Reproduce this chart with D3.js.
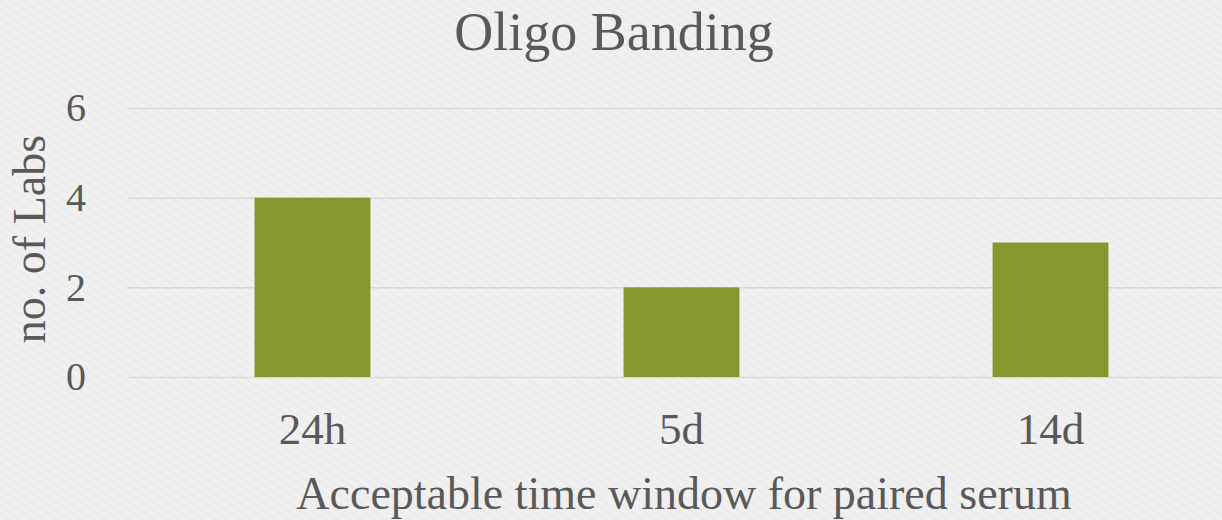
<!DOCTYPE html>
<html>
<head>
<meta charset="utf-8">
<script src="https://cdn.jsdelivr.net/npm/d3@7"></script>
<style>
  html, body { margin: 0; padding: 0; background: #efefef; }
  svg { display: block; }
</style>
</head>
<body>
<div id="chart"></div>
<script>
// chart data
const categories = ["24h", "5d", "14d"];
const labCounts = [4, 2, 3];
const yTicks = [0, 2, 4, 6];
const title = "Oligo Banding";
const xTitle = "Acceptable time window for paired serum";
const yTitle = "no. of Labs";

const svgWidth = 1222;
const svgHeight = 520;
const margin = {top: 108, right: -13, bottom: 143, left: 128};
const width = svgWidth - margin.left - margin.right;
const height = svgHeight - margin.top - margin.bottom;
const textColor = "#595959";
const fontFamily = "'Liberation Serif', 'Times New Roman', serif";

let root = d3.select("#chart")
  .append("svg")
  .attr("width", svgWidth)
  .attr("height", svgHeight);

// paper-like background with faint diagonal grain
let pattern = root.append("defs").append("pattern")
  .attr("id", "grain")
  .attr("width", 7)
  .attr("height", 7)
  .attr("patternUnits", "userSpaceOnUse")
  .attr("patternTransform", "rotate(35)");
pattern.append("rect").attr("width", 7).attr("height", 7).attr("fill", "#efefef");
pattern.append("line")
  .attr("x1", 0).attr("y1", 1).attr("x2", 7).attr("y2", 1)
  .attr("stroke", "#eaeaea").attr("stroke-width", 1.2);
pattern.append("line")
  .attr("x1", 0).attr("y1", 4.5).attr("x2", 7).attr("y2", 4.5)
  .attr("stroke", "#f3f3f3").attr("stroke-width", 1);

root.append("rect")
  .attr("width", svgWidth)
  .attr("height", svgHeight)
  .attr("fill", "url(#grain)");

let svg = root.append("g")
  .attr("transform", "translate(" + margin.left + "," + margin.top + ")");

// scales
let xScale = d3.scaleBand()
  .domain(categories)
  .range([0, width])
  .paddingInner(0.686)
  .paddingOuter(0.343);

let yScale = d3.scaleLinear()
  .domain([0, 6])
  .range([height, 0]);

// horizontal gridlines + y tick labels
let yAxis = svg.append("g")
  .call(d3.axisLeft(yScale).tickValues(yTicks).tickSize(-width).tickPadding(42).tickFormat(d3.format("d")));
yAxis.select(".domain").remove();
yAxis.selectAll(".tick line")
  .attr("stroke", "#d9d9d9")
  .attr("stroke-width", 1.5);
yAxis.selectAll(".tick text")
  .attr("fill", textColor)
  .style("font-family", fontFamily)
  .style("font-size", "40px");

// bars
svg.selectAll(".bar")
  .data(labCounts)
  .enter()
  .append("rect")
  .attr("class", "bar")
  .attr("x", function(d, i) { return xScale(categories[i]); })
  .attr("y", function(d) { return yScale(d); })
  .attr("width", xScale.bandwidth())
  .attr("height", function(d) { return height - yScale(d); })
  .attr("fill", "#84982e");

// x axis labels
let xAxis = svg.append("g")
  .attr("transform", "translate(0," + height + ")")
  .call(d3.axisBottom(xScale).tickSize(0).tickPadding(35));
xAxis.select(".domain").remove();
xAxis.selectAll(".tick text")
  .attr("fill", textColor)
  .style("font-family", fontFamily)
  .style("font-size", "45px");

// titles
root.append("text")
  .attr("x", 614)
  .attr("y", 50)
  .attr("text-anchor", "middle")
  .attr("fill", textColor)
  .style("font-family", fontFamily)
  .style("font-size", "54px")
  .text(title);

root.append("text")
  .attr("x", 684)
  .attr("y", 509)
  .attr("text-anchor", "middle")
  .attr("fill", textColor)
  .style("font-family", fontFamily)
  .style("font-size", "46px")
  .text(xTitle);

root.append("text")
  .attr("transform", "translate(45,239) rotate(-90)")
  .attr("text-anchor", "middle")
  .attr("fill", textColor)
  .style("font-family", fontFamily)
  .style("font-size", "46px")
  .text(yTitle);
</script>
</body>
</html>
